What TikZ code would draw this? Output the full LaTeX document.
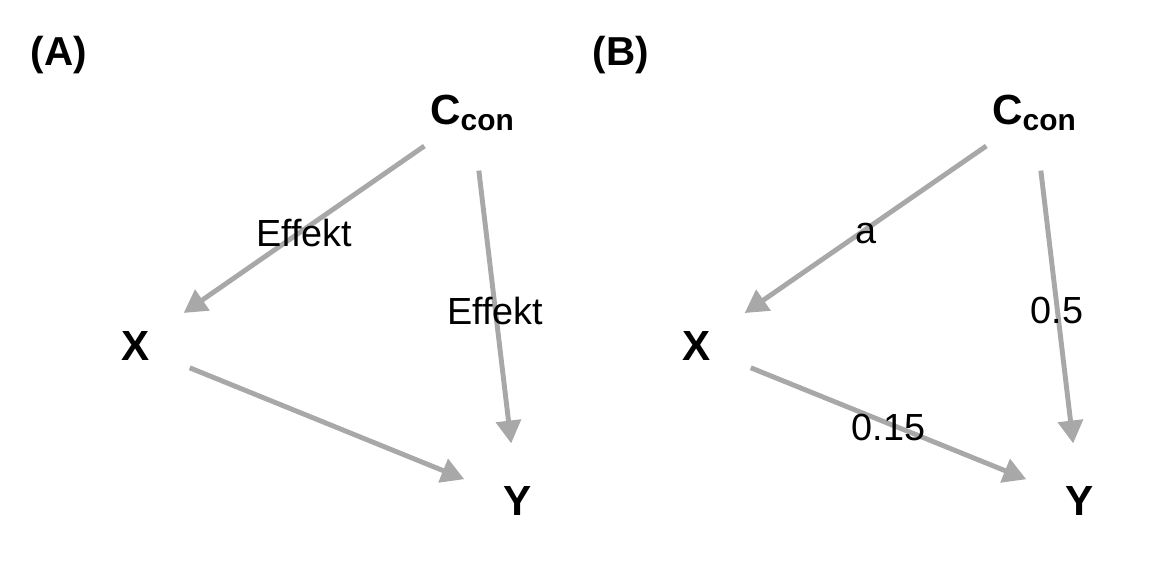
\documentclass[tikz,border=0pt]{standalone}
\usepackage{fontspec}
\setmainfont{Liberation Sans}
\usetikzlibrary{arrows.meta}
\definecolor{edgegray}{HTML}{A8A8A8}
\newcommand{\subtxt}[1]{\raisebox{-0.3ex}{\fontsize{17}{20}\selectfont #1}}
\begin{document}
\begin{tikzpicture}[x=0.02cm,y=-0.02cm,
  vnode/.style={inner sep=0pt, font=\fontsize{24}{28}\selectfont\bfseries},
  panel/.style={inner sep=0pt, font=\fontsize{23}{27}\selectfont\bfseries},
  elabel/.style={inner sep=0pt, yshift=-2pt, font=\fontsize{21.5}{25}\selectfont, text=black},
  edge/.style={draw=edgegray, line width=2.8pt, shorten <=1.16cm, shorten >=1.16cm,
    -{Triangle[length=13pt,width=14pt]}}]
\useasboundingbox (0,0) rectangle (1152,576);
% Panel A
\node[panel] (labA) at (59,55) {(A)};
\node[vnode] (Ca) at (472,113) {C\subtxt{con}};
\node[vnode] (Xa) at (136,346) {X};
\node[vnode] (Ya) at (518,501) {Y};
\draw[edge] (Ca.center) -- node[elabel]{Effekt} (Xa.center);
\draw[edge] (Ca.center) -- node[elabel]{Effekt} (Ya.center);
\draw[edge] (Xa.center) -- (Ya.center);
% Panel B
\node[panel] (labB) at (621,55) {(B)};
\node[vnode] (Cb) at (1034,113) {C\subtxt{con}};
\node[vnode] (Xb) at (697,346) {X};
\node[vnode] (Yb) at (1080,501) {Y};
\draw[edge] (Cb.center) -- node[elabel]{a} (Xb.center);
\draw[edge] (Cb.center) -- node[elabel]{0.5} (Yb.center);
\draw[edge] (Xb.center) -- node[elabel]{0.15} (Yb.center);
\end{tikzpicture}
\end{document}
